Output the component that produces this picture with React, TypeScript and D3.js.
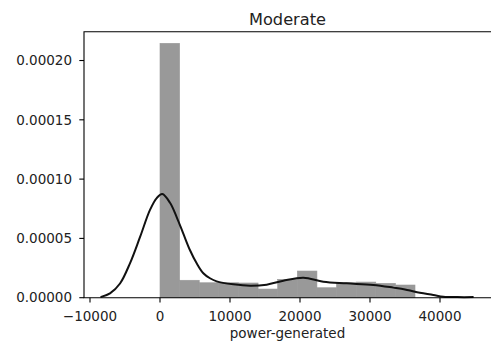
import * as d3 from 'd3';
import React from 'react';

// histogram: 13 equal bins from 0 to ~36430 (density)
const binStart = 0;
const binEnd = 36430;
const binDensity = [
  0.0002145, 0.0000147, 0.0000126, 0.0000126, 0.0000124, 0.0000073, 0.0000155,
  0.0000225, 0.0000084, 0.0000126, 0.0000132, 0.0000121, 0.0000107,
];

// kde curve
const kdeX = [
  -8500, -7140, -5710, -4290, -2860, -1430, -470, 330, 1430, 2380, 3330, 4290, 5240,
  6190, 7140, 8100, 10480, 12860, 15240, 17620, 20480, 23330, 26670, 30480, 33330,
  35000, 36430, 39050, 40480, 42500, 44800,
];
const kdeY = [
  0.0000005, 0.0000037, 0.000012, 0.000029, 0.000051, 0.000074, 0.000084, 0.0000874,
  0.00008, 0.000068, 0.000054, 0.00004, 0.000029, 0.0000206, 0.0000164, 0.0000138,
  0.0000113, 0.0000101, 0.000011, 0.0000143, 0.0000169, 0.0000135, 0.0000121, 0.0000107,
  0.0000085, 0.000007, 0.000005, 0.0000023, 0.0000008, 0.0000005, 0.0000005,
];

const xTicks = [-10000, 0, 10000, 20000, 30000, 40000];
const yTicks = [0, 0.00005, 0.0001, 0.00015, 0.0002];

const W = 491, H = 347;
const margin = { top: 31.7, right: -2, bottom: 49.3, left: 84 };
const font = 'DejaVu Sans, sans-serif';

export default function App() {
  const x = d3.scaleLinear().domain([-10857, 47143]).range([margin.left, 490]);
  const y = d3.scaleLinear().domain([0, 0.0002243]).range([H - margin.bottom, margin.top]);
  const bw = (binEnd - binStart) / binDensity.length;
  const pts = kdeX.map((v, i) => [v, kdeY[i]] as [number, number]);
  const line = d3.line<[number, number]>()
    .x(d => x(d[0]))
    .y(d => y(d[1]))
    .curve(d3.curveCatmullRom);
  const x0 = margin.left, x1 = W - margin.right;
  const y0 = H - margin.bottom, y1 = margin.top;

  return (
    <svg width={W} height={H} style={{ position: 'absolute', left: 0, top: 0, background: '#fff' }}
      fontFamily={font}>
      <rect width={W} height={H} fill="#fff" />
      {binDensity.map((d, i) => (
        <rect key={i}
          x={x(binStart + i * bw)} width={x(binStart + (i + 1) * bw) - x(binStart + i * bw)}
          y={y(d)} height={y0 - y(d)} fill="#999999" stroke="#999999" strokeWidth={0.6} />
      ))}
      <path d={line(pts) || ''} fill="none" stroke="#111" strokeWidth={2} />
      {/* spines: the right one falls outside the picture */}
      <path d={`M${x1},${y1}H${x0}V${y0}H${x1}`} fill="none" stroke="#000" strokeWidth={1.1} />
      {xTicks.map(t => (
        <g key={t} transform={`translate(${x(t)},${y0})`}>
          <line y2={4.7} stroke="#000" strokeWidth={1.1} />
          <text y={23.8} textAnchor="middle" fontSize={13.5} fill="#222">
            {t < 0 ? '\u2212' + Math.abs(t) : t}
          </text>
        </g>
      ))}
      {yTicks.map(t => (
        <g key={t} transform={`translate(${x0},${y(t)})`}>
          <line x2={-4.7} stroke="#000" strokeWidth={1.1} />
          <text x={-12} dy="0.35em" textAnchor="end" fontSize={13.5} fill="#222">
            {t.toFixed(5)}
          </text>
        </g>
      ))}
      <text x={287.5} y={337.5} textAnchor="middle" fontSize={13.5} fill="#222">power-generated</text>
      <text x={287.5} y={24.8} textAnchor="middle" fontSize={16.2} fill="#222">Moderate</text>
    </svg>
  );
}
